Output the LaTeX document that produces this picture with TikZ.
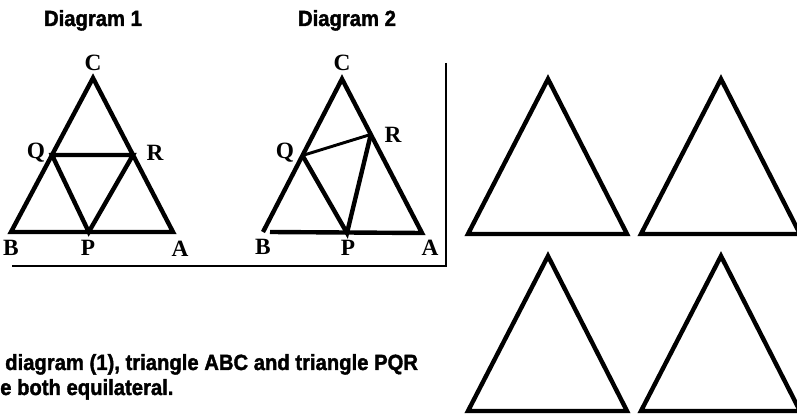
\documentclass[tikz,border=0pt]{standalone}
\usepackage{fontspec}
\setmainfont{Liberation Serif}
\newfontfamily\capfont[FakeBold=1.8]{Liberation Sans}
\usetikzlibrary{calc}

\begin{document}
\begin{tikzpicture}[x=0.75pt, y=-0.75pt,
    edge/.style={line width=3.3pt, line join=miter},
    thinedge/.style={line width=2.2pt},
    vlabel/.style={font=\bfseries\fontsize{17.5}{20}\selectfont, inner sep=0pt},
    caption/.style={font=\capfont\bfseries\fontsize{16.5}{19}\selectfont, inner sep=0pt, xscale=0.92}]
    \useasboundingbox (0,0) rectangle (797,416);

    % diagram 1
    \node[caption, anchor=base] (title1) at (93,26) {Diagram 1};
    \coordinate (c1) at (93,78);
    \coordinate (b1) at (11,232);
    \coordinate (a1) at (173,232);
    \coordinate (q1) at ($(c1)!0.5!(b1)$);
    \coordinate (r1) at ($(c1)!0.5!(a1)$);
    \coordinate (p1) at ($(b1)!0.48!(a1)$);
    \draw[edge] (a1) -- (b1) -- (c1) -- cycle;
    \draw[edge] (q1) -- (r1) -- (p1) -- cycle;
    \node[vlabel] (lc1) at (93,63) {C};
    \node[vlabel] (lq1) at (36,153) {Q};
    \node[vlabel] (lr1) at (155,153) {R};
    \node[vlabel] (lb1) at (11,248) {B};
    \node[vlabel] (lp1) at (88,248) {P};
    \node[vlabel] (la1) at (180,249) {A};

    % diagram 2
    \node[caption, anchor=base] (title2) at (347,26) {Diagram 2};
    \coordinate (c2) at (342,79);
    \coordinate (b2) at (263,232);
    \coordinate (base2) at (270,232);
    \coordinate (a2) at (422,233);
    \coordinate (q2) at ($(c2)!0.5!(b2)$);
    \coordinate (r2) at ($(c2)!0.36!(a2)$);
    \coordinate (p2) at (347,233);
    \draw[edge] (b2) -- (c2) -- (a2) -- (base2);
    \draw[edge] (r2) -- (p2) -- (q2);
    \draw[thinedge] (q2) -- (r2);
    \node[vlabel] (lc2) at (342,63) {C};
    \node[vlabel] (lq2) at (285,153) {Q};
    \node[vlabel] (lr2) at (393,135) {R};
    \node[vlabel] (lb2) at (263,247) {B};
    \node[vlabel] (lp2) at (348,248) {P};
    \node[vlabel] (la2) at (430,248) {A};

    % frame
    \coordinate (frametop) at (446,63);
    \coordinate (framecorner) at (446,266);
    \coordinate (frameleft) at (12,266);
    \draw[line width=2.2pt] (frametop) -- (framecorner) -- (frameleft);

    % caption text
    \node[caption, anchor=base west] (text1) at (5,370) {diagram (1), triangle ABC and triangle PQR};
    \node[caption, anchor=base west] (text2) at (0,395) {e both equilateral.};

    % empty triangles
    \foreach \x/\y [count=\i] in {548/79, 721/79, 548/256, 721/256} {
        \coordinate (top\i) at (\x,\y);
        \coordinate (left\i) at (\x-80,\y+155);
        \coordinate (right\i) at (\x+79,\y+155);
        \draw[edge] (top\i) -- (left\i) -- (right\i) -- cycle;
    }
\end{tikzpicture}
\end{document}
